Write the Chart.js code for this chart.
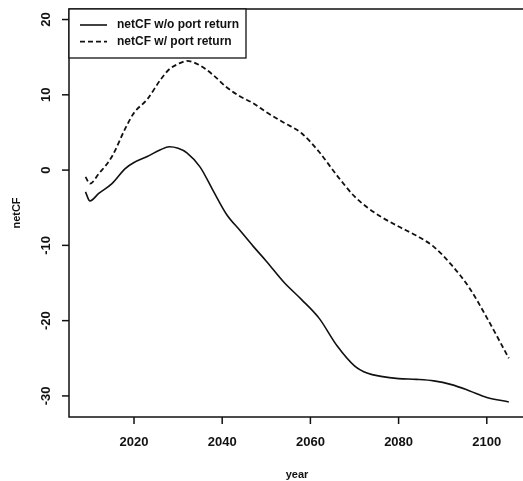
<!DOCTYPE html>
<html>
<head>
<meta charset="utf-8">
<script src="https://cdn.jsdelivr.net/npm/chart.js@4/dist/chart.umd.min.js"></script>
<style>
  html, body { margin: 0; padding: 0; background: #fff; overflow: hidden; }
  #wrap { width: 527px; height: 481px; }
</style>
</head>
<body>
<div id="wrap"><canvas id="graficoCF"></canvas></div>
<script>
// ======== DADOS ===========
const years = [2009, 2010, 2012, 2015, 2018, 2020, 2023, 2026, 2028, 2030, 2032, 2035, 2038, 2041,
  2044, 2047, 2050, 2054, 2058, 2062, 2066, 2070, 2073, 2076, 2080, 2084, 2088, 2092, 2096, 2100, 2105];
const netCfNoReturn = [-2.9, -4.1, -3.1, -1.8, 0.2, 1.0, 1.8, 2.7, 3.1, 2.9, 2.3, 0.4, -2.8, -5.9,
  -8.0, -10.1, -12.1, -14.9, -17.2, -19.7, -23.3, -26.0, -27.0, -27.4, -27.7, -27.8, -28.0, -28.5, -29.3, -30.2, -30.8];
const netCfWithReturn = [-0.9, -1.8, -0.5, 1.8, 5.5, 7.6, 9.4, 12.0, 13.4, 14.1, 14.5, 13.9, 12.6, 11.0,
  9.8, 8.9, 7.7, 6.3, 4.9, 2.4, -0.7, -3.5, -5.0, -6.2, -7.5, -8.7, -10.2, -12.6, -15.6, -19.6, -25.0];
const seriesNames = ['netCF w/o port return', 'netCF w/ port return'];
const xTicks = [2020, 2040, 2060, 2080, 2100];
const yTicks = [-30, -20, -10, 0, 10, 20];

const FONT = '"Liberation Sans", Arial, sans-serif';
const INK = '#111';

// ======== EIXOS (estilo R) ===========
const rAxes = {
  id: 'rAxes',
  afterDraw(chart) {
    const ctx = chart.ctx;
    const a = chart.chartArea;
    const sx = chart.scales.x, sy = chart.scales.y;
    ctx.save();
    ctx.strokeStyle = INK;
    ctx.fillStyle = INK;
    ctx.lineWidth = 1.5;
    ctx.strokeRect(a.left, a.top, a.right - a.left, a.bottom - a.top);

    ctx.font = 'bold 13px ' + FONT;
    // x
    ctx.textAlign = 'center';
    ctx.textBaseline = 'middle';
    xTicks.forEach(v => {
      const px = sx.getPixelForValue(v);
      ctx.beginPath();
      ctx.moveTo(px, a.bottom);
      ctx.lineTo(px, a.bottom + 7);
      ctx.stroke();
      ctx.fillText(String(v), px, 442);
    });
    // y
    yTicks.forEach(v => {
      const py = sy.getPixelForValue(v);
      ctx.beginPath();
      ctx.moveTo(a.left, py);
      ctx.lineTo(a.left - 7, py);
      ctx.stroke();
      ctx.save();
      ctx.translate(46, py);
      ctx.rotate(-Math.PI / 2);
      ctx.fillText(String(v), 0, 0);
      ctx.restore();
    });

    // titulos
    ctx.font = 'bold 11px ' + FONT;
    ctx.fillText('year', 297, 475);
    ctx.save();
    ctx.translate(17, (a.top + a.bottom) / 2);
    ctx.rotate(-Math.PI / 2);
    ctx.fillText('netCF', 0, 0);
    ctx.restore();
    ctx.restore();
  }
};

// ======== LEGENDA ===========
const rLegend = {
  id: 'rLegend',
  afterDraw(chart) {
    const ctx = chart.ctx;
    const a = chart.chartArea;
    const x0 = a.left, y0 = a.top;
    ctx.save();
    ctx.font = 'bold 12px ' + FONT;
    const textX = x0 + 48;
    let maxW = 0;
    chart.data.datasets.forEach(d => { maxW = Math.max(maxW, ctx.measureText(d.label).width); });
    ctx.strokeStyle = INK;
    ctx.lineWidth = 1.3;
    ctx.fillStyle = '#fff';
    ctx.fillRect(x0, y0, textX + maxW + 7 - x0, 49);
    ctx.strokeRect(x0, y0, textX + maxW + 7 - x0, 49);
    ctx.fillStyle = INK;
    ctx.textAlign = 'left';
    ctx.textBaseline = 'middle';
    chart.data.datasets.forEach((d, i) => {
      const y = y0 + 16 + i * 16.7;
      ctx.beginPath();
      ctx.setLineDash(d.borderDash || []);
      ctx.lineWidth = d.borderWidth;
      ctx.moveTo(x0 + 11, y);
      ctx.lineTo(x0 + 38, y);
      ctx.stroke();
      ctx.setLineDash([]);
      ctx.fillText(d.label, textX, y);
    });
    ctx.restore();
  }
};

// ======== GRAFICO ===========
new Chart(document.getElementById('graficoCF'), {
  type: 'line',
  data: {
    datasets: [{
      label: seriesNames[0],
      data: years.map((x, i) => ({ x, y: netCfNoReturn[i] })),
      borderColor: INK,
      borderWidth: 1.6,
      pointRadius: 0,
      cubicInterpolationMode: 'monotone'
    }, {
      label: seriesNames[1],
      data: years.map((x, i) => ({ x, y: netCfWithReturn[i] })),
      borderColor: INK,
      borderWidth: 1.8,
      borderDash: [5, 3],
      pointRadius: 0,
      cubicInterpolationMode: 'monotone'
    }]
  },
  options: {
    responsive: true,
    maintainAspectRatio: false,
    animation: false,
    layout: { padding: { left: 69, top: 9, right: 1.4, bottom: 64 } },
    scales: {
      x: { type: 'linear', display: false, min: 2005.26, max: 2108.8 },
      y: { type: 'linear', display: false, min: -32.8, max: 21.4 }
    },
    plugins: {
      legend: { display: false },
      tooltip: { enabled: false }
    }
  },
  plugins: [rAxes, rLegend]
});
</script>
</body>
</html>
